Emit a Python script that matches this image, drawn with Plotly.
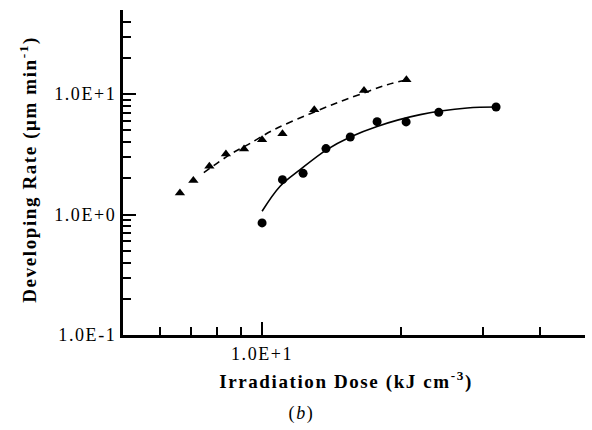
import plotly.graph_objects as go

# Data
circle_dose = [10.0, 11.07, 12.27, 13.75, 15.52, 17.74, 20.5, 24.12, 32.1]
circle_rate = [0.853, 1.95, 2.20, 3.53, 4.41, 5.91, 5.88, 7.06, 7.83]

triangle_dose = [6.64, 7.10, 7.69, 8.35, 9.14, 10.0, 11.07, 12.97, 16.62, 20.53]
triangle_rate = [1.514, 1.915, 2.52, 3.19, 3.51, 4.19, 4.70, 7.43, 10.75, 13.19]

solid_fit_dose = [10.0, 10.94, 12.09, 13.81, 15.52, 17.74, 22.0, 27.8, 32.1]
solid_fit_rate = [1.065, 1.718, 2.36, 3.46, 4.41, 5.40, 6.76, 7.68, 7.83]

dash_fit_dose = [7.48, 8.52, 9.32, 10.62, 12.71, 14.76, 16.9, 18.67, 20.63]
dash_fit_rate = [2.23, 3.15, 3.81, 5.08, 6.89, 8.66, 10.49, 11.99, 13.19]

x_tickvals = [10]
x_ticktext = ["1.0E+1"]
x_minor = [6, 7, 8, 9, 20, 30, 40, 50]
y_tickvals = [0.1, 1, 10]
y_ticktext = ["1.0E-1", "1.0E+0", "1.0E+1"]
y_minor = [0.2, 0.3, 0.4, 0.5, 0.6, 0.7, 0.8, 0.9,
           2, 3, 4, 5, 6, 7, 8, 9, 20, 30, 40, 50]

FONT = "Liberation Serif, Times New Roman, serif"

fig = go.Figure()
fig.add_trace(go.Scatter(x=dash_fit_dose, y=dash_fit_rate, mode="lines",
                         line=dict(color="black", width=1.6, dash="7px,5px", shape="spline"),
                         showlegend=False, hoverinfo="skip"))
fig.add_trace(go.Scatter(x=solid_fit_dose, y=solid_fit_rate, mode="lines",
                         line=dict(color="black", width=1.6, shape="spline"),
                         showlegend=False, hoverinfo="skip"))
fig.add_trace(go.Scatter(x=triangle_dose, y=triangle_rate, mode="markers",
                         marker=dict(symbol="triangle-up", size=9, color="black"),
                         showlegend=False))
fig.add_trace(go.Scatter(x=circle_dose, y=circle_rate, mode="markers",
                         marker=dict(symbol="circle", size=9, color="black"),
                         showlegend=False))

axis_common = dict(
    type="log", showline=True, linewidth=3, linecolor="black", mirror=False,
    showgrid=False, zeroline=False, ticks="inside", ticklen=13, tickwidth=2,
    tickcolor="black", tickmode="array",
    tickfont=dict(family=FONT, size=18, color="black"),
)

fig.update_xaxes(**axis_common, range=[0.69897, 1.69897],
                 tickvals=x_tickvals, ticktext=x_ticktext,
                 minor=dict(ticks="inside", ticklen=8, tickwidth=2, tickcolor="black",
                            tickmode="array", tickvals=x_minor, showgrid=False))
fig.update_yaxes(**axis_common, range=[-1, 1.69897],
                 tickvals=y_tickvals, ticktext=y_ticktext,
                 minor=dict(ticks="inside", ticklen=8, tickwidth=2, tickcolor="black",
                            tickmode="array", tickvals=y_minor, showgrid=False))

fig.add_annotation(text="Developing Rate (μm min<sup>-1</sup>)", xref="paper", yref="paper",
                   x=-0.2035, y=0.511, xanchor="center", yanchor="middle", textangle=-90,
                   showarrow=False, font=dict(family=FONT, size=19, color="black", weight="bold"))
fig.add_annotation(text="Irradiation Dose (kJ cm<sup>-3</sup>)", xref="paper", yref="paper",
                   x=0.4827, y=-0.1415, xanchor="center", yanchor="middle",
                   showarrow=False, font=dict(family=FONT, size=19, color="black", weight="bold"))
fig.add_annotation(text="(<i>b</i>)", xref="paper", yref="paper",
                   x=0.387, y=-0.24, xanchor="center", yanchor="middle",
                   showarrow=False, font=dict(family=FONT, size=18, color="black"))

fig.update_layout(
    width=592, height=430,
    margin=dict(l=123, r=7, t=10, b=95),
    paper_bgcolor="white", plot_bgcolor="white",
    font=dict(family=FONT, color="black"),
)

post = """
(function(){
  var gd = document.getElementById('{plot_id}');
  function apply(){
    gd.querySelectorAll('.annotation-text, .ytick text, .xtick text').forEach(function(e){
      e.style.letterSpacing = '1.6px';
    });
  }
  apply();
  if (gd.on) { gd.on('plotly_afterplot', apply); }
})();
"""

fig.write_html("out.html", post_script=post)
